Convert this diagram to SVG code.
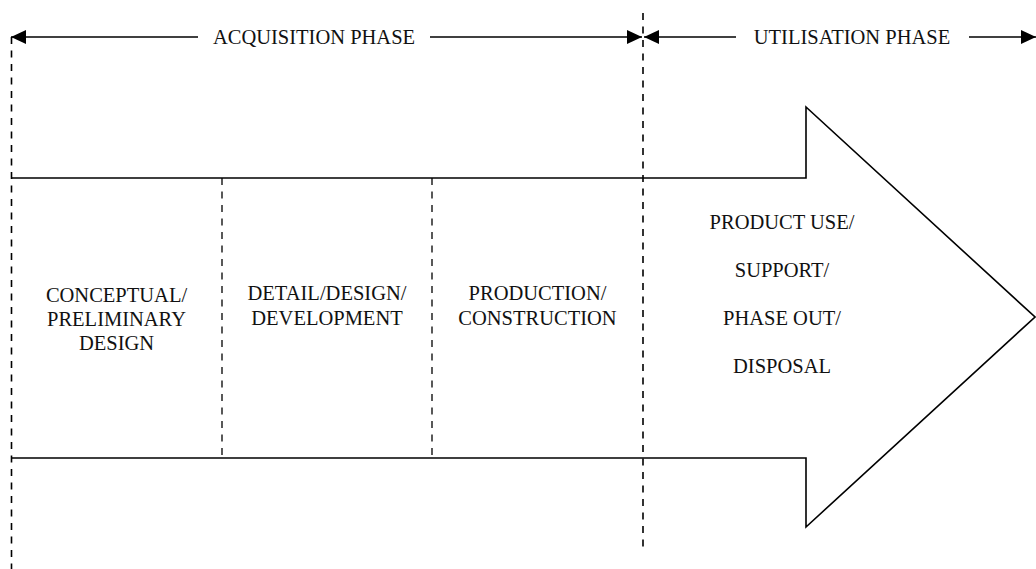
<svg xmlns="http://www.w3.org/2000/svg" width="1036" height="569" viewBox="0 0 1036 569">
  <style>
    .outline { fill: none; stroke: #000; stroke-width: 1.6; }
    .phase { fill: none; stroke: #000; stroke-width: 1.6; stroke-dasharray: 7 6.5; }
    .divider { fill: none; stroke: #000; stroke-width: 1.3; stroke-dasharray: 7 6.5; }
    .span { stroke: #000; stroke-width: 1.6; }
    text { font-family: "Liberation Serif", "Times New Roman", serif; font-size: 20.5px; fill: #111; text-anchor: middle; }
  </style>
  <defs>
    <marker id="head" viewBox="0 0 15 14" refX="15" refY="7" markerWidth="15" markerHeight="14" markerUnits="userSpaceOnUse" orient="auto">
      <path d="M0,0 L15,7 L0,14 Z" fill="#000"/>
    </marker>
  </defs>
  <rect width="1036" height="569" fill="#fff"/>

  <!-- lifecycle arrow body -->
  <g id="lifecycle-arrow">
    <path class="outline" d="M11,178 L806,178 L806,107 L1035,317 L806,527 L806,458 L11,458"/>
  </g>

  <!-- phase boundaries and stage dividers -->
  <g id="boundaries">
    <line class="phase" x1="11.5" y1="37" x2="11.5" y2="569"/>
    <line class="phase" x1="643" y1="13" x2="643" y2="553"/>
    <line class="divider" x1="222" y1="178" x2="222" y2="458"/>
    <line class="divider" x1="432" y1="178" x2="432" y2="458"/>
  </g>

  <!-- phase span arrows -->
  <g id="connectors">
    <line class="span" x1="198" y1="37" x2="11" y2="37" marker-end="url(#head)"/>
    <line class="span" x1="430" y1="37" x2="642" y2="37" marker-end="url(#head)"/>
    <line class="span" x1="736" y1="37" x2="644" y2="37" marker-end="url(#head)"/>
    <line class="span" x1="969" y1="37" x2="1036" y2="37" marker-end="url(#head)"/>
  </g>

  <g id="acquisition-label">
    <text x="314" y="44">ACQUISITION PHASE</text>
  </g>
  <g id="utilisation-label">
    <text x="852" y="44">UTILISATION PHASE</text>
  </g>

  <g id="stage-conceptual">
    <text x="116.5" y="301.5">CONCEPTUAL/</text>
    <text x="116.5" y="325.5">PRELIMINARY</text>
    <text x="116.5" y="349.5">DESIGN</text>
  </g>
  <g id="stage-detail">
    <text x="327" y="300">DETAIL/DESIGN/</text>
    <text x="327" y="324.5">DEVELOPMENT</text>
  </g>
  <g id="stage-production">
    <text x="537.5" y="300">PRODUCTION/</text>
    <text x="537.5" y="324.5">CONSTRUCTION</text>
  </g>
  <g id="stage-use">
    <text x="782" y="229">PRODUCT USE/</text>
    <text x="782" y="277">SUPPORT/</text>
    <text x="782" y="325">PHASE OUT/</text>
    <text x="782" y="373">DISPOSAL</text>
  </g>
</svg>
